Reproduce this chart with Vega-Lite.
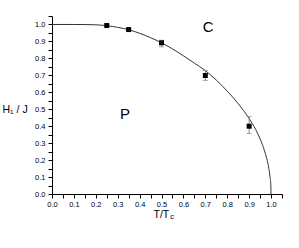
{
  "$schema": "https://vega.github.io/schema/vega-lite/v6.json",
  "width": 230,
  "height": 178,
  "autosize": "none",
  "padding": {"left": 52, "top": 16, "right": 17, "bottom": 54},
  "background": "white",
  "config": {
    "view": {"stroke": null},
    "font": "Liberation Sans",
    "axis": {
      "grid": false, "ticks": true, "tickSize": 4, "tickWidth": 1, "tickColor": "black", "domainColor": "black", "domainWidth": 1,
      "labelFont": "Liberation Sans", "labelFontSize": 7.5, "labelColor": "black",
      "labelOverlap": false, "labelBound": false, "labelFlush": false,
      "titleFont": "Liberation Sans", "titleFontSize": 10.5, "titleFontWeight": "normal", "titleColor": "black"
    }
  },
  "layer": [
    {
      "data": {"values": [
        {"t": 0, "h": 1.0}, {"t": 0.1, "h": 1.0}, {"t": 0.15, "h": 0.9995}, {"t": 0.2, "h": 0.998},
        {"t": 0.25, "h": 0.993}, {"t": 0.3, "h": 0.983}, {"t": 0.35, "h": 0.969}, {"t": 0.4, "h": 0.948},
        {"t": 0.45, "h": 0.922}, {"t": 0.5, "h": 0.892}, {"t": 0.55, "h": 0.856}, {"t": 0.6, "h": 0.815},
        {"t": 0.65, "h": 0.772}, {"t": 0.7, "h": 0.728}, {"t": 0.75, "h": 0.672}, {"t": 0.8, "h": 0.607},
        {"t": 0.85, "h": 0.533}, {"t": 0.9, "h": 0.445}, {"t": 0.93, "h": 0.38}, {"t": 0.95, "h": 0.325},
        {"t": 0.97, "h": 0.255}, {"t": 0.98, "h": 0.21}, {"t": 0.99, "h": 0.15}, {"t": 0.995, "h": 0.105},
        {"t": 0.999, "h": 0.05}, {"t": 1.0, "h": 0}
      ]},
      "mark": {"type": "line", "color": "#333333", "strokeWidth": 1, "interpolate": "monotone"},
      "encoding": {
        "x": {"field": "t", "type": "quantitative", "scale": {"domain": [0, 1.05], "nice": false},
              "axis": {"title": "T/T", "titleAlign": "left", "titleX": 101, "titleY": 20, "titleBaseline": "middle", "labelPadding": 2,
                       "values": [0, 0.05, 0.1, 0.15, 0.2, 0.25, 0.3, 0.35, 0.4, 0.45, 0.5, 0.55, 0.6, 0.65, 0.7, 0.75, 0.8, 0.85, 0.9, 0.95, 1.0, 1.05],
                       "labelExpr": "round(datum.value*20) % 2 == 0 ? format(datum.value, '.1f') : ''"}},
        "y": {"field": "h", "type": "quantitative", "scale": {"domain": [0, 1.05], "nice": false},
              "axis": {"title": "H₁ / J", "titleAngle": 0, "titleAlign": "left", "titleX": -50, "titleY": 93, "titleBaseline": "middle", "labelPadding": 3,
                       "values": [0, 0.05, 0.1, 0.15, 0.2, 0.25, 0.3, 0.35, 0.4, 0.45, 0.5, 0.55, 0.6, 0.65, 0.7, 0.75, 0.8, 0.85, 0.9, 0.95, 1.0, 1.05],
                       "labelExpr": "round(datum.value*20) % 2 == 0 ? format(datum.value, '.1f') : ''"}}
      }
    },
    {
      "data": {"values": [
        {"t": 0.25, "h": 0.994, "lo": 0.989, "hi": 0.999},
        {"t": 0.35, "h": 0.970, "lo": 0.962, "hi": 0.978},
        {"t": 0.5, "h": 0.892, "lo": 0.868, "hi": 0.907},
        {"t": 0.7, "h": 0.699, "lo": 0.67, "hi": 0.729},
        {"t": 0.9, "h": 0.40, "lo": 0.357, "hi": 0.457}
      ]},
      "layer": [
        {
          "mark": {"type": "errorbar", "ticks": {"size": 5, "color": "#888888"}, "rule": {"color": "#888888", "strokeWidth": 1}},
          "encoding": {
            "x": {"field": "t", "type": "quantitative",
                  "axis": {"title": "T/T", "titleAlign": "left", "titleX": 101, "titleY": 20, "titleBaseline": "middle", "labelPadding": 2,
                       "values": [0, 0.05, 0.1, 0.15, 0.2, 0.25, 0.3, 0.35, 0.4, 0.45, 0.5, 0.55, 0.6, 0.65, 0.7, 0.75, 0.8, 0.85, 0.9, 0.95, 1.0, 1.05],
                       "labelExpr": "round(datum.value*20) % 2 == 0 ? format(datum.value, '.1f') : ''"}},
            "y": {"field": "lo", "type": "quantitative",
                  "axis": {"title": "H₁ / J", "titleAngle": 0, "titleAlign": "left", "titleX": -50, "titleY": 93, "titleBaseline": "middle", "labelPadding": 3,
                       "values": [0, 0.05, 0.1, 0.15, 0.2, 0.25, 0.3, 0.35, 0.4, 0.45, 0.5, 0.55, 0.6, 0.65, 0.7, 0.75, 0.8, 0.85, 0.9, 0.95, 1.0, 1.05],
                       "labelExpr": "round(datum.value*20) % 2 == 0 ? format(datum.value, '.1f') : ''"}},
            "y2": {"field": "hi"}
          }
        },
        {
          "mark": {"type": "square", "size": 25, "color": "black", "opacity": 1},
          "encoding": {
            "x": {"field": "t", "type": "quantitative",
                  "axis": {"title": "T/T", "titleAlign": "left", "titleX": 101, "titleY": 20, "titleBaseline": "middle", "labelPadding": 2,
                       "values": [0, 0.05, 0.1, 0.15, 0.2, 0.25, 0.3, 0.35, 0.4, 0.45, 0.5, 0.55, 0.6, 0.65, 0.7, 0.75, 0.8, 0.85, 0.9, 0.95, 1.0, 1.05],
                       "labelExpr": "round(datum.value*20) % 2 == 0 ? format(datum.value, '.1f') : ''"}},
            "y": {"field": "h", "type": "quantitative",
                  "axis": {"title": "H₁ / J", "titleAngle": 0, "titleAlign": "left", "titleX": -50, "titleY": 93, "titleBaseline": "middle", "labelPadding": 3,
                       "values": [0, 0.05, 0.1, 0.15, 0.2, 0.25, 0.3, 0.35, 0.4, 0.45, 0.5, 0.55, 0.6, 0.65, 0.7, 0.75, 0.8, 0.85, 0.9, 0.95, 1.0, 1.05],
                       "labelExpr": "round(datum.value*20) % 2 == 0 ? format(datum.value, '.1f') : ''"}}
          }
        }
      ]
    },
    {
      "data": {"values": [
        {"t": 0.333, "h": 0.469, "label": "P"},
        {"t": 0.713, "h": 0.985, "label": "C"}
      ]},
      "mark": {"type": "text", "fontSize": 15, "font": "Liberation Sans", "color": "black", "baseline": "middle", "align": "center"},
      "encoding": {
        "x": {"field": "t", "type": "quantitative",
              "axis": {"title": "T/T", "titleAlign": "left", "titleX": 101, "titleY": 20, "titleBaseline": "middle", "labelPadding": 2,
                       "values": [0, 0.05, 0.1, 0.15, 0.2, 0.25, 0.3, 0.35, 0.4, 0.45, 0.5, 0.55, 0.6, 0.65, 0.7, 0.75, 0.8, 0.85, 0.9, 0.95, 1.0, 1.05],
                       "labelExpr": "round(datum.value*20) % 2 == 0 ? format(datum.value, '.1f') : ''"}},
        "y": {"field": "h", "type": "quantitative",
              "axis": {"title": "H₁ / J", "titleAngle": 0, "titleAlign": "left", "titleX": -50, "titleY": 93, "titleBaseline": "middle", "labelPadding": 3,
                       "values": [0, 0.05, 0.1, 0.15, 0.2, 0.25, 0.3, 0.35, 0.4, 0.45, 0.5, 0.55, 0.6, 0.65, 0.7, 0.75, 0.8, 0.85, 0.9, 0.95, 1.0, 1.05],
                       "labelExpr": "round(datum.value*20) % 2 == 0 ? format(datum.value, '.1f') : ''"}},
        "text": {"field": "label"}
      }
    },
    {
      "data": {"values": [{"sub": "c"}]},
      "mark": {"type": "text", "fontSize": 7.5, "font": "Liberation Sans", "color": "black", "baseline": "middle", "align": "left"},
      "encoding": {
        "x": {"datum": 0.54,
              "axis": {"title": "T/T", "titleAlign": "left", "titleX": 101, "titleY": 20, "titleBaseline": "middle", "labelPadding": 2,
                       "values": [0, 0.05, 0.1, 0.15, 0.2, 0.25, 0.3, 0.35, 0.4, 0.45, 0.5, 0.55, 0.6, 0.65, 0.7, 0.75, 0.8, 0.85, 0.9, 0.95, 1.0, 1.05],
                       "labelExpr": "round(datum.value*20) % 2 == 0 ? format(datum.value, '.1f') : ''"}},
        "y": {"datum": -0.137,
              "axis": {"title": "H₁ / J", "titleAngle": 0, "titleAlign": "left", "titleX": -50, "titleY": 93, "titleBaseline": "middle", "labelPadding": 3,
                       "values": [0, 0.05, 0.1, 0.15, 0.2, 0.25, 0.3, 0.35, 0.4, 0.45, 0.5, 0.55, 0.6, 0.65, 0.7, 0.75, 0.8, 0.85, 0.9, 0.95, 1.0, 1.05],
                       "labelExpr": "round(datum.value*20) % 2 == 0 ? format(datum.value, '.1f') : ''"}},
        "text": {"field": "sub"}
      }
    }
  ]
}
